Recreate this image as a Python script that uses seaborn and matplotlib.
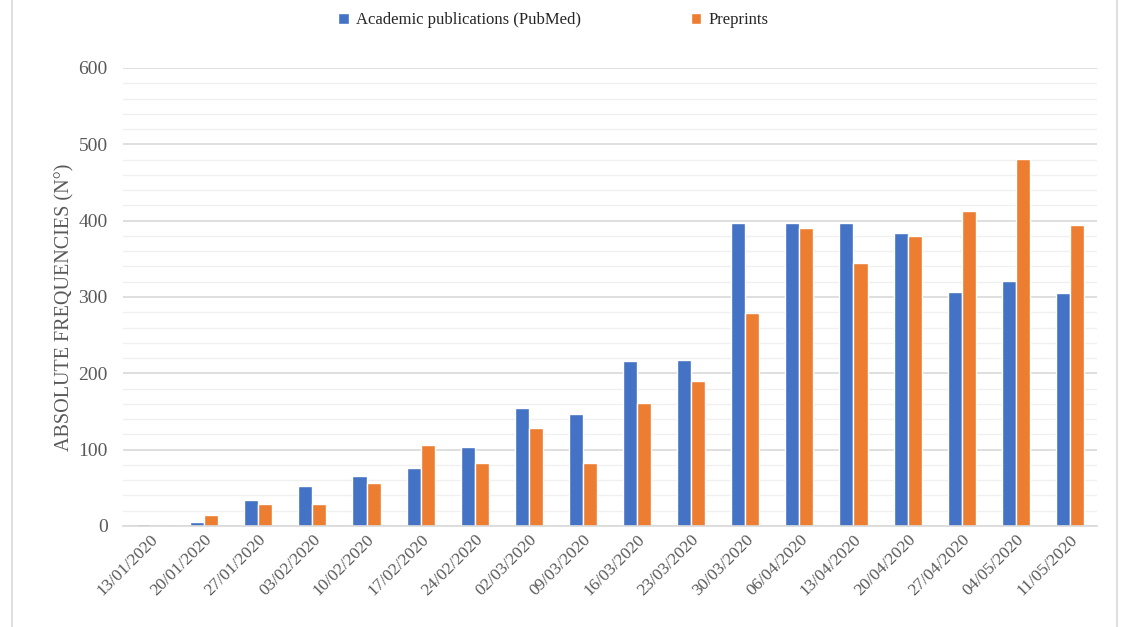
import numpy as np
import pandas as pd
import matplotlib
matplotlib.use("Agg")
import matplotlib.pyplot as plt
import seaborn as sns
from matplotlib.patches import Rectangle

# ==========================================
# DATOS
# ==========================================

weeks = [
    "13/01/2020", "20/01/2020", "27/01/2020", "03/02/2020", "10/02/2020",
    "17/02/2020", "24/02/2020", "02/03/2020", "09/03/2020", "16/03/2020",
    "23/03/2020", "30/03/2020", "06/04/2020", "13/04/2020", "20/04/2020",
    "27/04/2020", "04/05/2020", "11/05/2020",
]

pubmed = [3, 5, 34, 53, 65, 76, 104, 155, 147, 216,
          217, 397, 397, 397, 384, 307, 321, 305]

preprints = [0, 14, 29, 29, 56, 106, 83, 128, 82, 161,
             190, 279, 391, 345, 380, 413, 481, 394]

series_names = ["Academic publications (PubMed)", "Preprints"]
colors = ["#4472C4", "#ED7D31"]

y_ticks = [0, 100, 200, 300, 400, 500, 600]

df = pd.DataFrame({
    "week": weeks * 2,
    "value": pubmed + preprints,
    "series": [series_names[0]] * len(weeks) + [series_names[1]] * len(weeks),
})

# ==========================================
# ESTILO
# ==========================================

sns.set_theme(style="white")
plt.rcParams["font.family"] = ["Liberation Serif", "DejaVu Serif"]
TEXT = "#595959"

fig = plt.figure(figsize=(11.22, 6.27), dpi=100)
ax = fig.add_axes([123 / 1122, 1 - 526 / 627, (1097 - 123) / 1122, (526 - 68) / 627])

sns.barplot(
    data=df,
    x="week",
    y="value",
    hue="series",
    palette=colors,
    width=0.52,
    saturation=1,
    ax=ax,
    legend=True,
)

# ==========================================
# EJES Y GRID
# ==========================================

ax.set_ylim(0, 600)
ax.set_xlim(-0.5, len(weeks) - 0.5)
ax.set_yticks(y_ticks)
ax.set_yticks(np.arange(0, 601, 20), minor=True)
ax.yaxis.grid(True, which="major", color="#D9D9D9", linewidth=1.2)
ax.yaxis.grid(True, which="minor", color="#F0F0F0", linewidth=1.0)
ax.set_axisbelow(True)

for side in ["top", "right", "left"]:
    ax.spines[side].set_visible(False)
ax.spines["bottom"].set_color("#D9D9D9")
ax.spines["bottom"].set_linewidth(1.2)

ax.tick_params(axis="y", which="both", length=0, labelsize=14, colors=TEXT, pad=11)
ax.tick_params(axis="x", length=0, labelsize=12.5, colors=TEXT, pad=4)
plt.setp(ax.get_xticklabels(), rotation=45, ha="right", rotation_mode="anchor")

ax.set_xlabel("")
ax.set_ylabel("ABSOLUTE FREQUENCIES (N°)", fontsize=14.5, color=TEXT)
ax.yaxis.set_label_coords(-0.050, 0.478)

# ==========================================
# LEYENDA
# ==========================================

handles, labels = ax.get_legend_handles_labels()
ax.get_legend().remove()
fig.legend(
    handles, labels,
    loc="center",
    bbox_to_anchor=(0.493, 1 - 20 / 627),
    ncol=2,
    frameon=False,
    fontsize=12,
    labelcolor="#262626",
    handlelength=0.65,
    handleheight=0.65,
    handletextpad=0.4,
    columnspacing=6.6,
)

# borde del área del gráfico
fig.patches.append(Rectangle(
    (12 / 1122, -0.01), (1117 - 12) / 1122, 1.02,
    transform=fig.transFigure, fill=False, edgecolor="#D9D9D9", linewidth=1.2,
))

fig.savefig("out.png", dpi=100)
plt.close(fig)
